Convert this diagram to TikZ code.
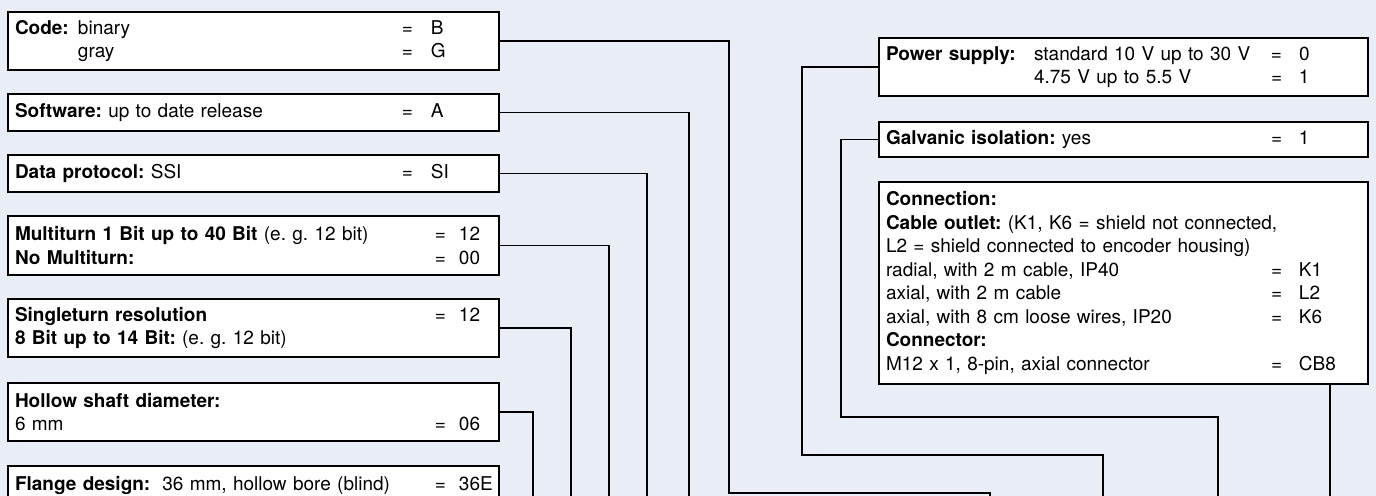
\documentclass[tikz,border=0pt]{standalone}
\usepackage{fontspec}
\setmainfont{TeX Gyre Heros}
\usetikzlibrary{positioning}
\definecolor{bgblue}{RGB}{233,237,246}
\frenchspacing
% option rows: text, "=" and code in fixed columns
\newcommand{\eqA}[2]{\makebox[193.5pt][l]{#1}\makebox[14.5pt][l]{=}#2}
\newcommand{\eqB}[2]{\makebox[210pt][l]{#1}\makebox[12pt][l]{=}#2}
\newcommand{\eqR}[2]{\makebox[192.5pt][l]{#1}\makebox[14pt][l]{=}#2}

\begin{document}
\begin{tikzpicture}[x=0.5pt,y=-0.5pt,
  optbox/.style={draw,line width=1pt,fill=white,anchor=north west,align=left,
    inner xsep=3.5pt,inner ysep=0pt,font=\fontsize{9.5}{11.75}\selectfont},
  leftbox/.style={optbox,text width=238.5pt},
  rightbox/.style={optbox,text width=237.5pt},
  wire/.style={line width=0.65pt}]
\useasboundingbox (0,0) rectangle (1376,496);
\clip (0,0) rectangle (1376,496);
\fill[bgblue] (0,0) rectangle (1376,496);

% left column
\node[leftbox,minimum height=29pt] (code) at (7,11)
  {\eqA{\makebox[31.5pt][l]{\textbf{Code:}}binary}{B}\\
   \eqA{\hspace*{31.5pt}gray}{G}};
\node[leftbox,minimum height=18.5pt] (software) at (7,93)
  {\eqA{\textbf{Software:} up to date release}{A}};
\node[leftbox,minimum height=18.5pt] (data) at (7,154)
  {\eqA{\textbf{Data protocol:} SSI}{SI}};
\node[leftbox,minimum height=29.5pt] (multi) at (7,215)
  {\eqB{\textbf{Multiturn 1 Bit up to 40 Bit} (e. g. 12 bit)}{12}\\
   \eqB{\textbf{No Multiturn:}}{00}};
\node[leftbox,minimum height=29pt] (single) at (7,298)
  {\eqB{\textbf{Singleturn resolution}}{12}\\
   \textbf{8 Bit up to 14 Bit:} (e. g. 12 bit)};
\node[leftbox,minimum height=29pt] (hollow) at (7,382)
  {\textbf{Hollow shaft diameter:}\\
   \eqB{6 mm}{06}};
\node[leftbox,minimum height=29pt] (flange) at (7,465)
  {\eqB{\textbf{Flange design:}\hspace{6pt}36 mm, hollow bore (blind)}{36E}\\
   \mbox{}};

% right column
\node[rightbox,minimum height=29pt] (power) at (878,37)
  {\eqR{\makebox[74pt][l]{\textbf{Power supply:}}standard 10 V up to 30 V}{0}\\
   \eqR{\hspace*{74pt}4.75 V up to 5.5 V}{1}};
\node[rightbox,minimum height=17.5pt] (galv) at (878,121)
  {\eqR{\textbf{Galvanic isolation:} yes}{1}};
\node[rightbox,minimum height=101pt] (conn) at (878,181)
  {\textbf{Connection:}\\
   \textbf{Cable outlet:} (K1, K6 = shield not connected,\\
   L2 = shield connected to encoder housing)\\
   \eqR{radial, with 2 m cable, IP40}{K1}\\
   \eqR{axial, with 2 m cable}{L2}\\
   \eqR{axial, with 8 cm loose wires, IP20}{K6}\\
   \textbf{Connector:}\\
   \eqR{M12 x 1, 8-pin, axial connector}{CB8}};

% line ends at the lower edge
\coordinate (codeend) at (990,496);
\coordinate (softend) at (689,496);
\coordinate (dataend) at (647,496);
\coordinate (multiend) at (609,496);
\coordinate (singleend) at (571,496);
\coordinate (hollowend) at (533,496);
\coordinate (powerend) at (1103,496);
\coordinate (galvend) at (1218,496);
\coordinate (connend) at (1330,496);

\draw[wire] (code.east) -| (729,493) -| (codeend);
\draw[wire] (software.east) -| (softend);
\draw[wire] (data.east) -| (dataend);
\draw[wire] (multi.east) -| (multiend);
\draw[wire] (single.east) -| (singleend);
\draw[wire] (hollow.east) -| (hollowend);
\draw[wire] (power.west) -| (802,455) -| (powerend);
\draw[wire] (galv.west) -| (841,417) -| (galvend);
\draw[wire] (conn.south -| connend) -- (connend);
\end{tikzpicture}
\end{document}
